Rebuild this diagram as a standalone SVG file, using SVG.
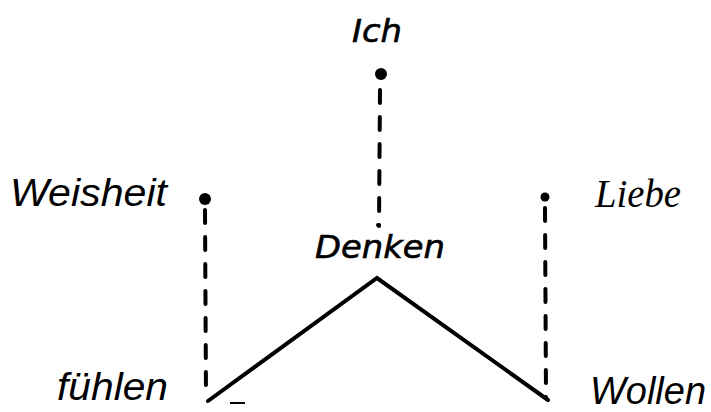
<svg xmlns="http://www.w3.org/2000/svg" width="711" height="412" viewBox="0 0 711 412">
<style>
.lbl{font-family:"Liberation Sans",Arial,sans-serif;font-style:italic;font-size:38px;fill:#000}
.ser{font-family:"Liberation Serif","Times New Roman",serif;font-style:italic;font-size:40px;fill:#000}
.hand{font-family:"DejaVu Sans",sans-serif;font-style:italic;font-size:32px;fill:#000;stroke:#000;stroke-width:0.6}
.dash{stroke:#000;stroke-width:4;stroke-dasharray:13 14;stroke-linecap:round;fill:none}
.solid{stroke:#000;stroke-width:4;fill:none;stroke-linecap:round}
</style>
<rect width="711" height="412" fill="#fff"/>
<g id="connectors">
  <line class="dash" x1="380" y1="90" x2="379" y2="226"/>
  <line class="dash" x1="205" y1="210" x2="206" y2="398"/>
  <line class="dash" x1="545" y1="208" x2="546" y2="398"/>
  <polyline class="solid" points="208,401 377,278 548,400"/>
  <line x1="230" y1="403" x2="245" y2="403" stroke="#000" stroke-width="2"/>
</g>
<g id="ich">
  <circle cx="381" cy="74" r="6" fill="#000"/>
  <text class="hand" x="377" y="42" text-anchor="middle" textLength="50" lengthAdjust="spacingAndGlyphs">Ich</text>
</g>
<g id="denken">
  <circle cx="378" cy="225" r="2" fill="#000"/>
  <text class="hand" x="380" y="258" text-anchor="middle" textLength="130" lengthAdjust="spacingAndGlyphs">Denken</text>
</g>
<g id="weisheit">
  <circle cx="205" cy="199" r="6" fill="#000"/>
  <text class="lbl" x="10" y="206" textLength="157" lengthAdjust="spacingAndGlyphs">Weisheit</text>
</g>
<g id="liebe">
  <circle cx="545" cy="197" r="4.5" fill="#000"/>
  <text class="ser" x="595" y="207" textLength="86" lengthAdjust="spacingAndGlyphs">Liebe</text>
</g>
<g id="fuehlen">
  <text class="lbl" x="57" y="400" textLength="111" lengthAdjust="spacingAndGlyphs">fühlen</text>
</g>
<g id="wollen">
  <text class="lbl" x="590" y="404" font-size="35" textLength="116" lengthAdjust="spacingAndGlyphs">Wollen</text>
</g>
</svg>
